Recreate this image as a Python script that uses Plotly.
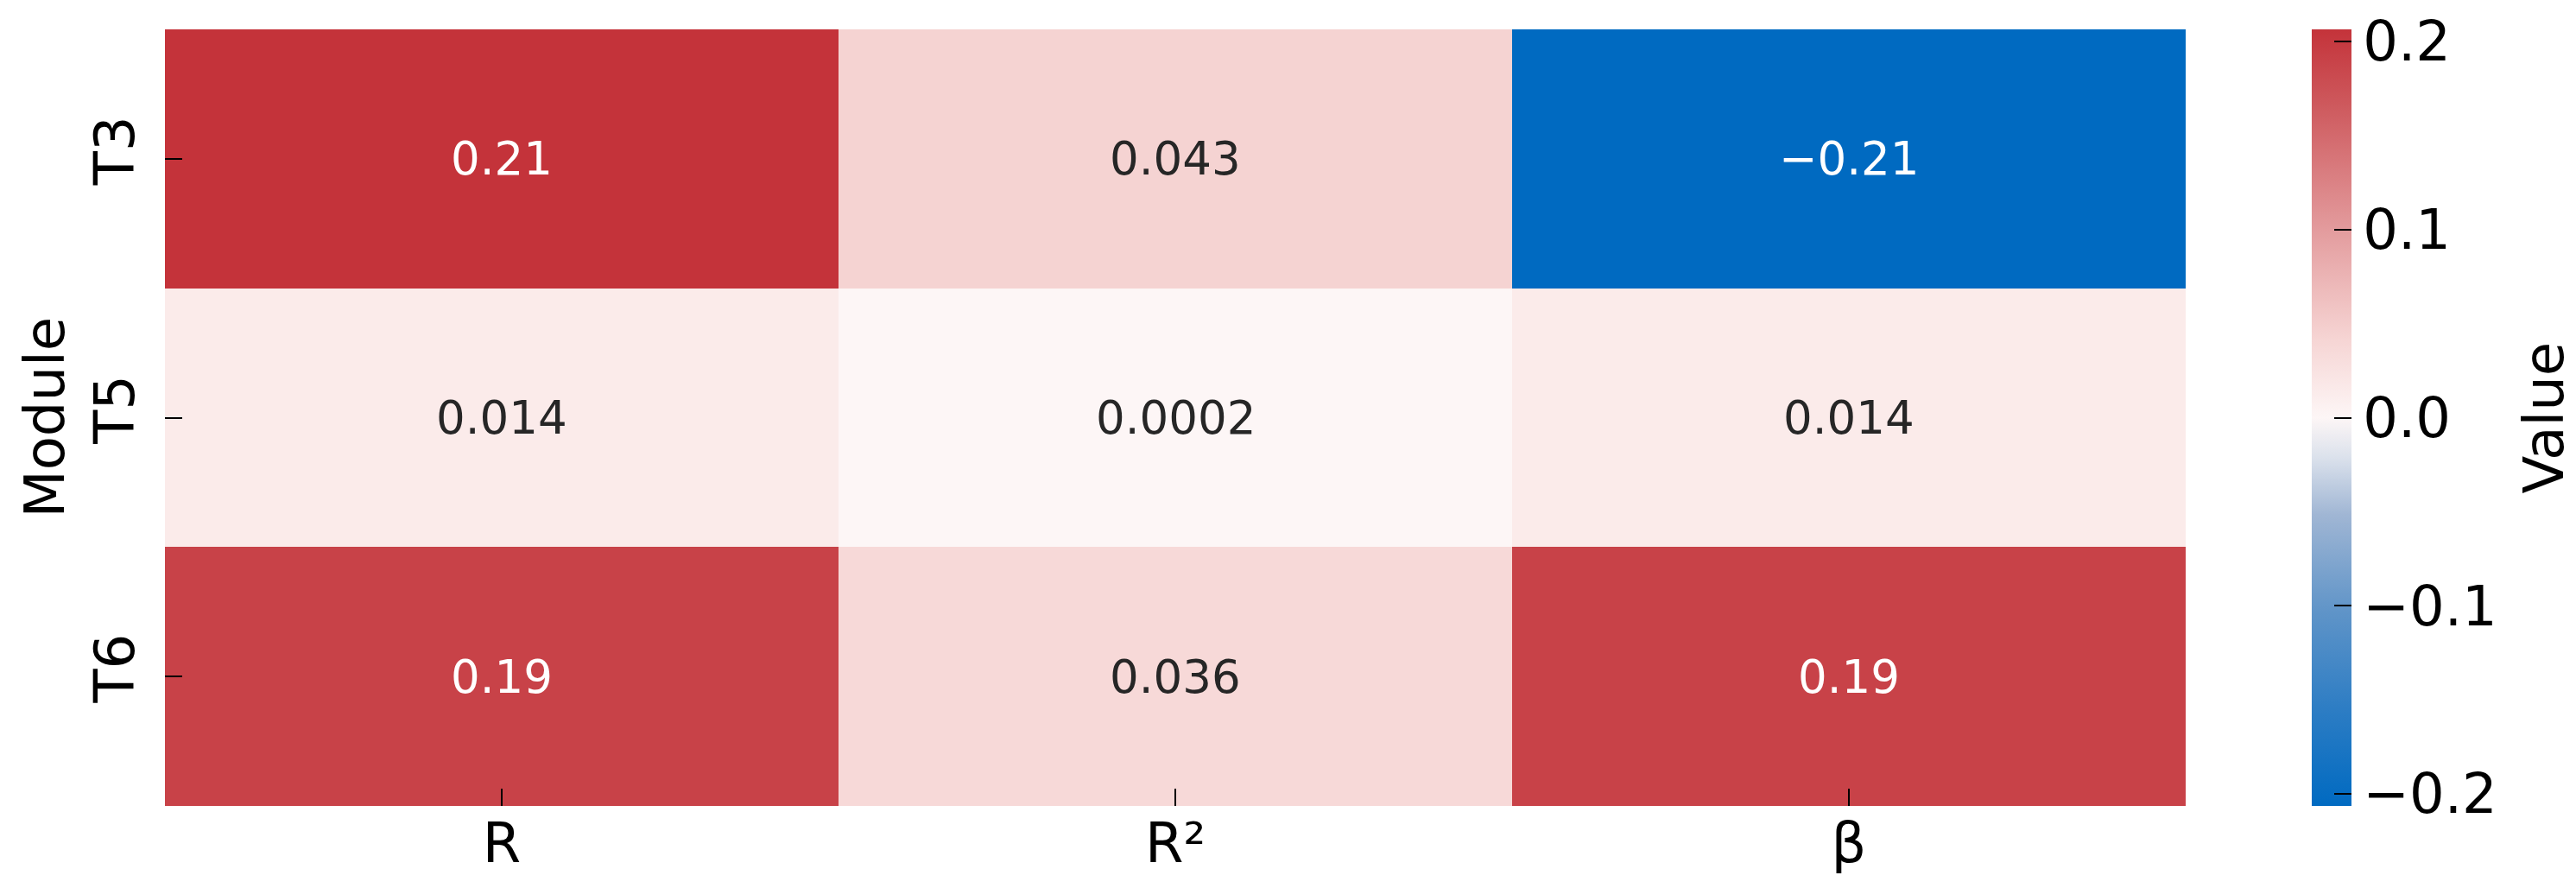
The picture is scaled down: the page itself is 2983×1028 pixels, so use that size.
import plotly.graph_objects as go

# ---- data ----
modules = ["T3", "T5", "T6"]
metrics = ["R", "R²", "β"]
values_T3 = [0.2064, 0.043, -0.2064]
values_T5 = [0.014, 0.0002, 0.014]
values_T6 = [0.19, 0.036, 0.19]
z = [values_T3, values_T5, values_T6]

cb_ticks = [-0.2, -0.1, 0.0, 0.1, 0.2]

colorscale = [
    [0.00, "rgb(0,106,193)"],
    [0.125, "rgb(45,125,196)"],
    [0.25, "rgb(95,148,200)"],
    [0.375, "rgb(160,182,212)"],
    [0.45, "rgb(220,226,236)"],
    [0.50, "rgb(253,246,246)"],
    [0.60, "rgb(246,213,212)"],
    [0.75, "rgb(226,152,154)"],
    [0.90, "rgb(206,90,94)"],
    [1.00, "rgb(196,51,58)"],
]

FONT = "DejaVu Sans"
W, H = 2983, 1028
L, R, T, B = 183, 460, 26, 103
PW = W - L - R

fig = go.Figure()
fig.add_trace(go.Heatmap(
    z=z, x=metrics, y=modules,
    colorscale=colorscale, zmid=0,
    xgap=0, ygap=0,
    hoverinfo="skip",
    colorbar=dict(
        thickness=46, thicknessmode="pixels",
        len=1, lenmode="fraction",
        x=(2669 - L) / PW, xanchor="left", xpad=0,
        y=0.5, yanchor="middle", ypad=0,
        outlinewidth=0,
        ticks="inside", ticklen=20, tickwidth=2, tickcolor="#000",
        tickvals=cb_ticks, tickformat=".1f",
        tickfont=dict(family=FONT, size=64, color="#000"),
    ),
))

annotations = []
for yi, row in enumerate(z):
    for xi, v in enumerate(row):
        txt = format(v, ".2g").replace("-", "\u2212")
        col = "#ffffff" if abs(v) > 0.1 else "#262626"
        annotations.append(dict(
            x=metrics[xi], y=modules[yi], xref="x", yref="y",
            text=txt, showarrow=False,
            xanchor="center", yanchor="middle",
            font=dict(family=FONT, size=53, color=col),
        ))

# axis / colorbar titles
annotations.append(dict(
    x=(2937 - L) / PW, y=0.5, xref="paper", yref="paper",
    text="Value", textangle=-90, showarrow=False,
    xanchor="center", yanchor="middle",
    font=dict(family=FONT, size=64, color="#000"),
))
annotations.append(dict(
    x=(43 - L) / PW, y=0.5, xref="paper", yref="paper",
    text="Module", textangle=-90, showarrow=False,
    xanchor="center", yanchor="middle",
    font=dict(family=FONT, size=64, color="#000"),
))

fig.update_layout(
    width=W, height=H,
    margin=dict(l=L, r=R, t=T, b=B, autoexpand=False),
    paper_bgcolor="white", plot_bgcolor="white",
    font=dict(family=FONT, color="#000"),
    annotations=annotations,
    xaxis=dict(
        showgrid=False, zeroline=False, showline=False,
        ticks="inside", ticklen=20, tickwidth=2, tickcolor="#000",
        tickfont=dict(family=FONT, size=64, color="#000"),
    ),
    yaxis=dict(
        autorange="reversed",
        showgrid=False, zeroline=False, showline=False,
        ticks="inside", ticklen=20, tickwidth=2, tickcolor="#000",
        tickangle=-90, ticklabelstandoff=22,
        tickfont=dict(family=FONT, size=64, color="#000"),
    ),
)

fig.write_html("out.html")
